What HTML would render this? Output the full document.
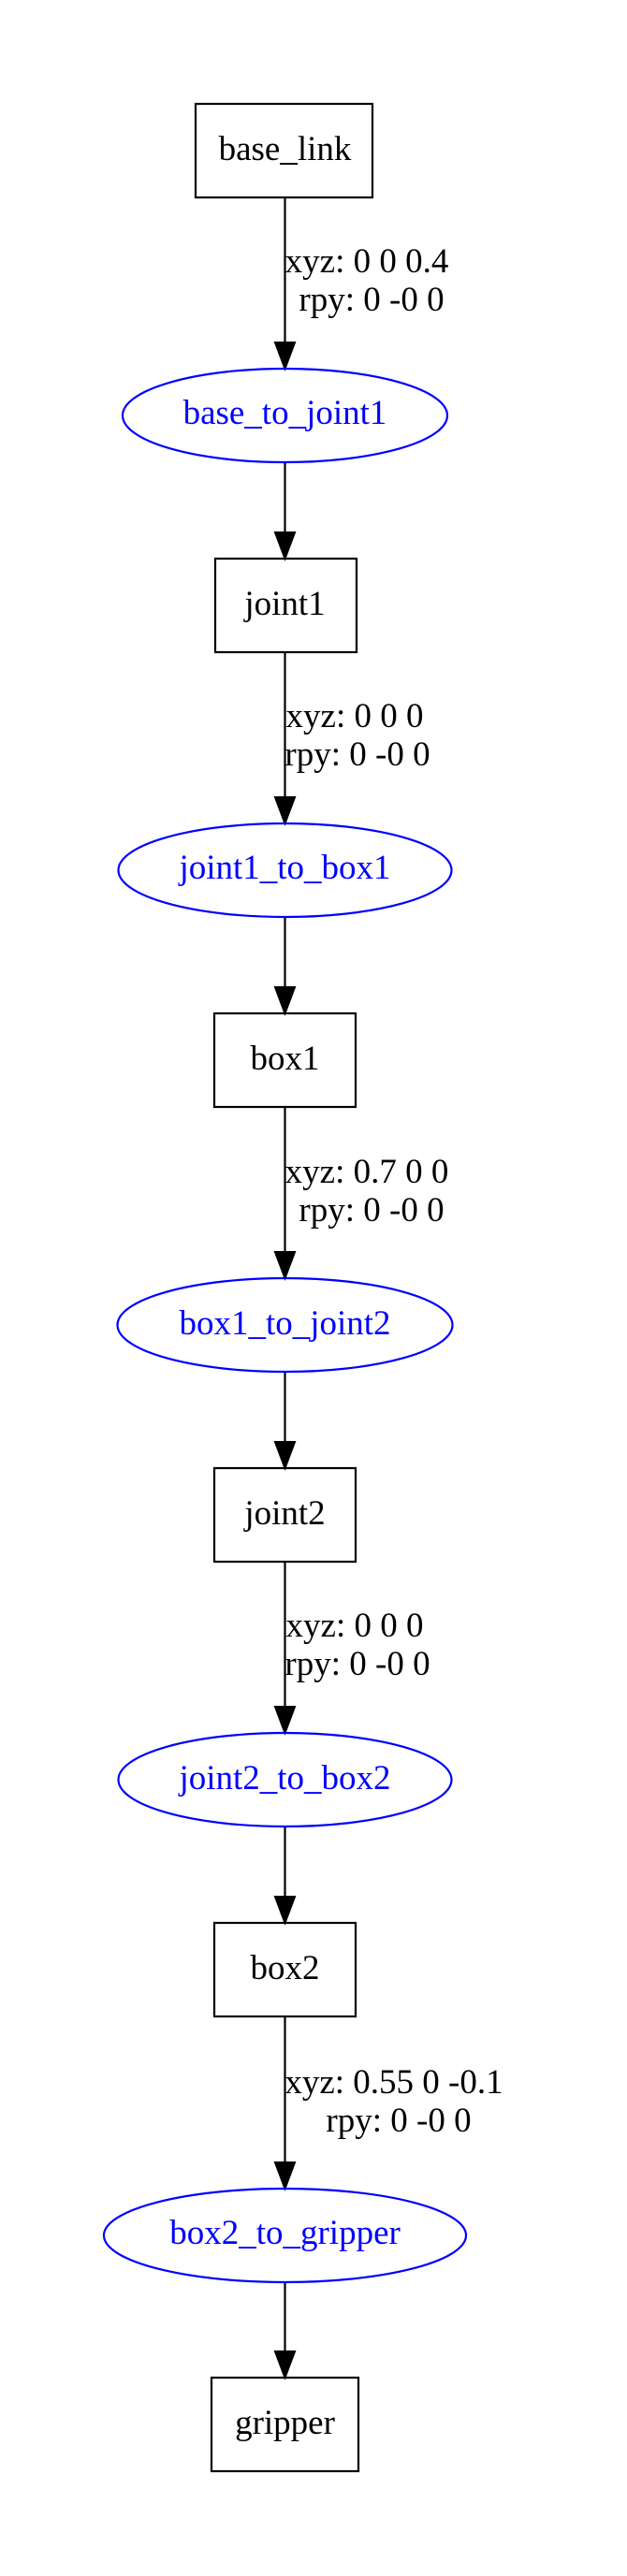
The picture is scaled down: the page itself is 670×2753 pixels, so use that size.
<!DOCTYPE html>
<html><head><meta charset="utf-8"><style>html,body{margin:0;padding:0;background:#fff}svg{display:block}</style></head>
<body>
<svg width="670" height="2753" viewBox="0 0 670 2753" xmlns="http://www.w3.org/2000/svg" font-family="'Liberation Serif', serif" font-size="37">
<rect width="670" height="2753" fill="#fff"/>
<g stroke="#000" stroke-width="2.2" fill="none">
<rect x="209" y="111" width="189" height="100"/>
<rect x="230" y="597" width="151" height="100"/>
<rect x="229" y="1083" width="151" height="100"/>
<rect x="229" y="1569" width="151" height="100"/>
<rect x="229" y="2055" width="151" height="100"/>
<rect x="226" y="2541" width="157" height="100"/>
<line x1="304.5" y1="211" x2="304.5" y2="368"/>
<line x1="304.5" y1="494" x2="304.5" y2="570"/>
<line x1="304.5" y1="697" x2="304.5" y2="854"/>
<line x1="304.5" y1="980" x2="304.5" y2="1056"/>
<line x1="304.5" y1="1183" x2="304.5" y2="1340"/>
<line x1="304.5" y1="1466" x2="304.5" y2="1542"/>
<line x1="304.5" y1="1669" x2="304.5" y2="1826"/>
<line x1="304.5" y1="1952" x2="304.5" y2="2028"/>
<line x1="304.5" y1="2155" x2="304.5" y2="2312"/>
<line x1="304.5" y1="2439" x2="304.5" y2="2514"/>
</g>
<g fill="#000" stroke="#000" stroke-width="2">
<polygon points="294,366 315,366 304.5,394"/>
<polygon points="294,569 315,569 304.5,597"/>
<polygon points="294,852 315,852 304.5,880"/>
<polygon points="294,1055 315,1055 304.5,1083"/>
<polygon points="294,1338 315,1338 304.5,1366"/>
<polygon points="294,1541 315,1541 304.5,1569"/>
<polygon points="294,1824 315,1824 304.5,1852"/>
<polygon points="294,2027 315,2027 304.5,2055"/>
<polygon points="294,2311 315,2311 304.5,2339"/>
<polygon points="294,2513 315,2513 304.5,2541"/>
</g>
<g stroke="#0000ff" stroke-width="2.2" fill="none">
<ellipse cx="304.5" cy="444" rx="173.5" ry="50"/>
<ellipse cx="304.5" cy="930" rx="178" ry="50"/>
<ellipse cx="304.5" cy="1416" rx="179" ry="50"/>
<ellipse cx="304.5" cy="1902" rx="178" ry="50"/>
<ellipse cx="304.5" cy="2389" rx="193.5" ry="50"/>
</g>
<g fill="#0000ff" text-anchor="middle">
<text x="304.5" y="453">base_to_joint1</text>
<text x="304.5" y="939">joint1_to_box1</text>
<text x="304.5" y="1426">box1_to_joint2</text>
<text x="304.5" y="1912">joint2_to_box2</text>
<text x="304.5" y="2398">box2_to_gripper</text>
</g>
<g fill="#000" text-anchor="middle">
<text x="304.5" y="171">base_link</text>
<text x="304.5" y="657">joint1</text>
<text x="304.5" y="1143">box1</text>
<text x="304.5" y="1629">joint2</text>
<text x="304.5" y="2115">box2</text>
<text x="304.5" y="2601">gripper</text>
<text x="392" y="291">xyz: 0 0 0.4</text>
<text x="397" y="332">rpy: 0 -0 0</text>
<text x="379" y="777">xyz: 0 0 0</text>
<text x="382" y="818">rpy: 0 -0 0</text>
<text x="392" y="1264">xyz: 0.7 0 0</text>
<text x="397" y="1305">rpy: 0 -0 0</text>
<text x="379" y="1749">xyz: 0 0 0</text>
<text x="382" y="1790">rpy: 0 -0 0</text>
<text x="421" y="2237">xyz: 0.55 0 -0.1</text>
<text x="426" y="2278">rpy: 0 -0 0</text>
</g>
</svg>
</body></html>
